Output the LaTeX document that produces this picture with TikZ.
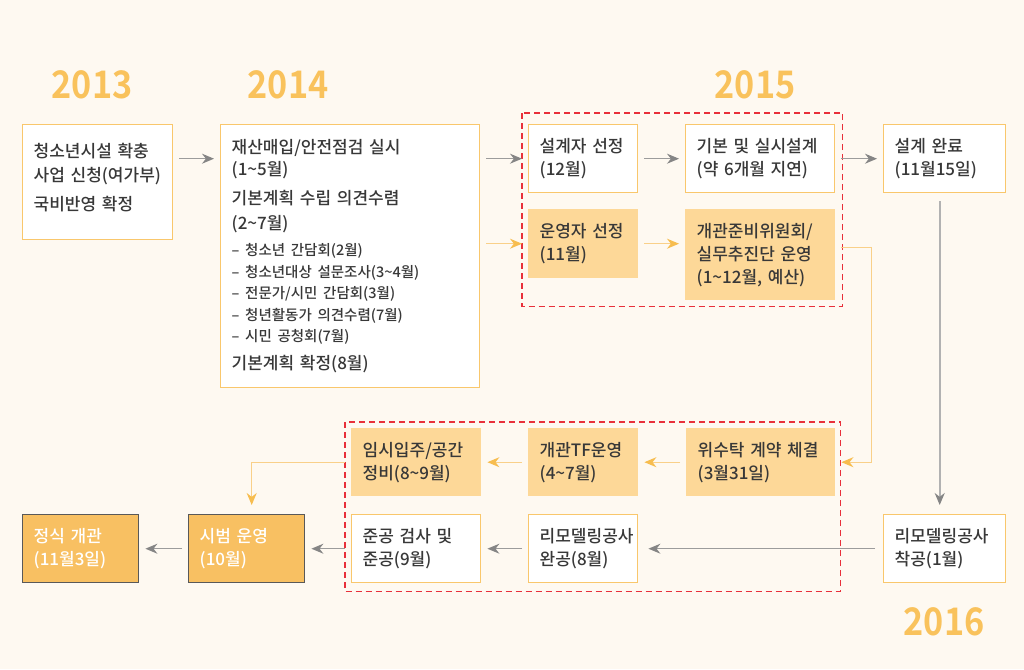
\documentclass[tikz,border=0pt]{standalone}
\usepackage{fontspec}
\setmainfont{Noto Sans CJK KR}[UprightFont={* Medium},BoldFont={* Bold}]
\newfontfamily\yearfont{Noto Sans CJK KR Bold}[FakeStretch=0.9]
\usetikzlibrary{arrows.meta,positioning}
\definecolor{paper}{HTML}{FEF9F1}
\definecolor{edgeor}{HTML}{F9C76C}
\definecolor{pale}{HTML}{FDD898}
\definecolor{deep}{HTML}{F8C062}
\definecolor{ink}{HTML}{383838}
\definecolor{yearor}{HTML}{F9C25C}
\definecolor{greyline}{HTML}{9C9C9C}
\definecolor{greytip}{HTML}{858585}
\definecolor{amber}{HTML}{F9D089}
\definecolor{ambertip}{HTML}{F7BD4F}
\definecolor{dashred}{HTML}{E8303A}
\newcommand{\til}{\textasciitilde}
\newcommand{\smallline}[1]{{\fontsize{14.5}{21}\selectfont #1}}

\begin{document}
\begin{tikzpicture}[x=1pt,y=-1pt,
        box/.style={draw=edgeor,fill=white,line width=1.4pt,anchor=north west,align=left,
            inner xsep=11pt,inner ysep=0pt,text=ink,font=\fontsize{17}{23}\selectfont},
        pale box/.style={box,draw=pale,fill=pale},
        deep box/.style={box,draw=black!65,fill=deep,text=white},
        yr/.style={text=yearor,font=\fontsize{38}{40}\yearfont},
        grey line/.style={-{Stealth[length=12pt,width=10pt,color=greytip]},draw=greyline,
            line width=1.2pt,shorten <=6pt,shorten >=6pt},
        amber line/.style={grey line,-{Stealth[length=12pt,width=10pt,color=ambertip]},draw=amber},
        dashframe/.style={draw=dashred,line width=1.6pt,dash pattern=on 6pt off 4pt}]

    \fill[paper] (0,0) rectangle (1024,669);

    \node[yr] (y0) at (92,85) {2013};
    \node[yr] (y1) at (288,85) {2014};
    \node[yr] (y2) at (755,85) {2015};
    \node[yr] (y3) at (944,622) {2016};

    \node[box,minimum width=150pt,minimum height=115pt,text width=128pt] (0) at (22,124)
        {청소년시설 확충\\[1pt]사업 신청(여가부)\\[6pt]국비반영 확정\par\vspace{10pt}};
    \node[box,minimum width=259pt,minimum height=263pt,text width=237pt] (1) at (220,124)
        {재산매입/안전점검 실시\\[-1pt](1\til5월)\\[6pt]
        기본계획 수립 의견수렴\\[2pt](2\til7월)\\[3pt]
        \smallline{– 청소년 간담회(2월)}\\[-1.5pt]
        \smallline{– 청소년대상 설문조사(3\til4월)}\\[-1.5pt]
        \smallline{– 전문가/시민 간담회(3월)}\\[-1.5pt]
        \smallline{– 청년활동가 의견수렴(7월)}\\[-1.5pt]
        \smallline{– 시민 공청회(7월)}\\[5pt]
        기본계획 확정(8월)};

    \node[box,minimum width=109pt,minimum height=68pt,text width=87pt] (2) at (528,124)
        {설계자 선정\\(12월)};
    \node[pale box,minimum width=109pt,minimum height=68pt,text width=87pt] (3) at (528,209)
        {운영자 선정\\(11월)};
    \node[box,minimum width=149pt,minimum height=68pt,text width=127pt] (4) at (685,124)
        {기본 및 실시설계\\(약 6개월 지연)};
    \node[pale box,minimum width=149pt,minimum height=90pt,text width=127pt] (5) at (685,209)
        {개관준비위원회/\\실무추진단 운영\\(1\til12월, 예산)};
    \node[box,minimum width=122pt,minimum height=68pt,text width=100pt] (6) at (883,124)
        {설계 완료\\(11월15일)};

    \node[box,minimum width=122pt,minimum height=68pt,text width=100pt] (7) at (883,514)
        {리모델링공사\\착공(1월)};
    \node[pale box,minimum width=148pt,minimum height=67pt,text width=126pt] (8) at (686,428)
        {위수탁 계약 체결\\(3월31일)};
    \node[pale box,minimum width=109pt,minimum height=67pt,text width=87pt] (9) at (528,428)
        {개관TF운영\\(4\til7월)};
    \node[pale box,minimum width=129pt,minimum height=67pt,text width=107pt] (10) at (351,428)
        {임시입주/공간\\정비(8\til9월)};
    \node[box,minimum width=109pt,minimum height=68pt,text width=87pt] (11) at (528,514)
        {리모델링공사\\완공(8월)};
    \node[box,minimum width=129pt,minimum height=68pt,text width=107pt] (12) at (351,514)
        {준공 검사 및\\준공(9월)};
    \node[deep box,minimum width=116pt,minimum height=68pt,text width=94pt] (13) at (188,514)
        {시범 운영\\(10월)};
    \node[deep box,minimum width=116pt,minimum height=68pt,text width=94pt] (14) at (22,514)
        {정식 개관\\(11월3일)};

    \draw[dashframe] ([shift={(-6,-11)}]2.north west) rectangle ([shift={(7,6)}]5.south east);
    \coordinate (c) at (8.east |- 11.south);
    \draw[dashframe] ([shift={(-6,-6)}]10.north west) rectangle ([shift={(5,8)}]c);

    \path (0.east |- 2) edge[grey line] (1.west |- 2);
    \path (1.east |- 2) edge[grey line] (2);
    \path (1.east |- 3) edge[amber line] (3);
    \path (2) edge[grey line] (4);
    \path (4) edge[grey line] (6);
    \path (3) edge[amber line] (5.west |- 3);
    \draw[amber line] ([yshift=7pt]5.east) -- ++(36,0) |- (8.east);
    \path ([xshift=-5pt]6.south) edge[grey line,draw=black!30,line width=1.8pt,
        shorten <=8pt,shorten >=9pt] ([xshift=-5pt]7.north);
    \path (7) edge[grey line,shorten <=8pt,shorten >=10pt] (11);
    \path (8) edge[amber line] (9);
    \path (9) edge[amber line] (10);
    \draw[amber line,shorten >=9pt] (10.west) -| ([xshift=5pt]13.north);
    \path (11) edge[grey line] (12);
    \path (12) edge[grey line] (13);
    \path (13) edge[grey line] (14);

\end{tikzpicture}
\end{document}
